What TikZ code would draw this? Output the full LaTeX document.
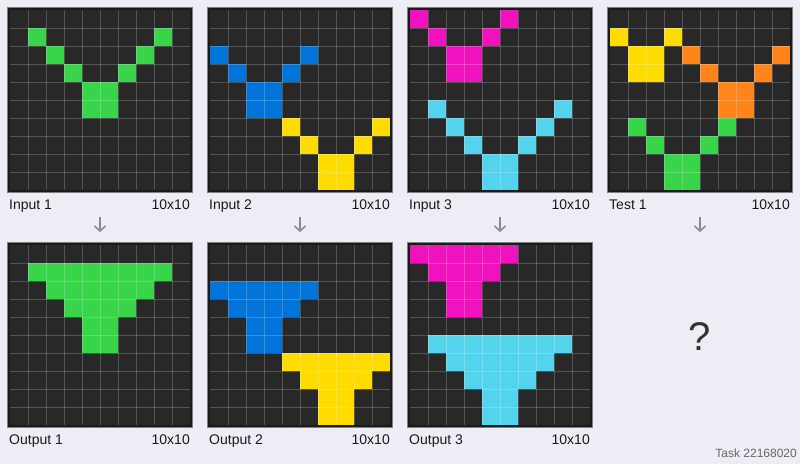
\documentclass[tikz,border=0pt]{standalone}
\usepackage{fontspec}
\setmainfont{Liberation Sans}
\usetikzlibrary{positioning,arrows.meta,calc}
\definecolor{pagebg}{HTML}{EDEDF5}
\definecolor{framec}{HTML}{1A1A1A}
\definecolor{cellbg}{HTML}{282828}
\definecolor{arcgreen}{HTML}{38D44A}
\definecolor{arcblue}{HTML}{0074D9}
\definecolor{arcyellow}{HTML}{FFDC00}
\definecolor{arcmagenta}{HTML}{F012BE}
\definecolor{arcorange}{HTML}{FF851B}
\definecolor{arccyan}{HTML}{54D4EC}
\definecolor{arrowgray}{HTML}{8A8A8A}
\definecolor{tasktext}{HTML}{666666}
\tikzset{
  board/.style={draw=black!50,line width=0.8pt,fill=framec,minimum size=185pt,inner sep=0pt,outer sep=0pt},
  gline/.style={draw=white,draw opacity=0.2,line width=0.7pt},
  lbl/.style={font=\fontsize{14}{16}\selectfont,text=black!90,inner sep=0pt},
  flow/.style={-{Straight Barb[length=5pt,width=11pt]},draw=arrowgray,line width=1.5pt,shorten <=24.5pt,shorten >=10.5pt},
}
% #1,#2 = top left corner of the cell area
\newcommand{\cellarea}[2]{%
  \fill[cellbg] (#1,#2) rectangle ++(180,180);}
\newcommand{\cells}[4]{%
  \foreach \r/\c in {#4} \fill[#3] ({#1+18*\c},{#2+18*\r}) rectangle ++(18,18);}
\newcommand{\gridlines}[2]{%
  \foreach \k in {1,...,9} {
    \draw[gline] ({#1+18*\k},#2) -- ++(0,180);
    \draw[gline] (#1,{#2+18*\k}) -- ++(180,0);
  }}

\begin{document}
\begin{tikzpicture}[x=1pt,y=-1pt]
  \fill[pagebg] (0,0) rectangle (800,464);
  \useasboundingbox (0,0) rectangle (800,464);

  % boards
  \node[board] (in1) at (100,100) {};
  \node[board] (in2) at (300,100) {};
  \node[board] (in3) at (500,100) {};
  \node[board] (test1) at (700,100) {};
  \node[board] (out1) at (100,335) {};
  \node[board] (out2) at (300,335) {};
  \node[board] (out3) at (500,335) {};
  \coordinate (out4) at (700,242.5);

  \foreach \x in {10,210,410,610} \cellarea{\x}{10};
  \foreach \x in {10,210,410} \cellarea{\x}{245};

  % input 1 / output 1
  \cells{10}{10}{arcgreen}{1/1,1/8,2/2,2/7,3/3,3/6,4/4,4/5,5/4,5/5}
  \cells{10}{245}{arcgreen}{1/1,1/2,1/3,1/4,1/5,1/6,1/7,1/8,2/2,2/3,2/4,2/5,2/6,2/7,3/3,3/4,3/5,3/6,4/4,4/5,5/4,5/5}

  % input 2 / output 2
  \cells{210}{10}{arcblue}{2/0,2/5,3/1,3/4,4/2,4/3,5/2,5/3}
  \cells{210}{10}{arcyellow}{6/4,6/9,7/5,7/8,8/6,8/7,9/6,9/7}
  \cells{210}{245}{arcblue}{2/0,2/1,2/2,2/3,2/4,2/5,3/1,3/2,3/3,3/4,4/2,4/3,5/2,5/3}
  \cells{210}{245}{arcyellow}{6/4,6/5,6/6,6/7,6/8,6/9,7/5,7/6,7/7,7/8,8/6,8/7,9/6,9/7}

  % input 3 / output 3
  \cells{410}{10}{arcmagenta}{0/0,0/5,1/1,1/4,2/2,2/3,3/2,3/3}
  \cells{410}{10}{arccyan}{5/1,5/8,6/2,6/7,7/3,7/6,8/4,8/5,9/4,9/5}
  \cells{410}{245}{arcmagenta}{0/0,0/1,0/2,0/3,0/4,0/5,1/1,1/2,1/3,1/4,2/2,2/3,3/2,3/3}
  \cells{410}{245}{arccyan}{5/1,5/2,5/3,5/4,5/5,5/6,5/7,5/8,6/2,6/3,6/4,6/5,6/6,6/7,7/3,7/4,7/5,7/6,8/4,8/5,9/4,9/5}

  % test 1
  \cells{610}{10}{arcyellow}{1/0,1/3,2/1,2/2,3/1,3/2}
  \cells{610}{10}{arcorange}{2/4,2/9,3/5,3/8,4/6,4/7,5/6,5/7}
  \cells{610}{10}{arcgreen}{6/1,6/6,7/2,7/5,8/3,8/4,9/3,9/4}

  \foreach \x in {10,210,410,610} \gridlines{\x}{10};
  \foreach \x in {10,210,410} \gridlines{\x}{245};

  % labels
  \node[lbl,anchor=base west] (in1name) at (9,209) {Input 1};
  \node[lbl,anchor=base east] (in1size) at (190,209) {10x10};
  \node[lbl,anchor=base west] (in2name) at (209,209) {Input 2};
  \node[lbl,anchor=base east] (in2size) at (390,209) {10x10};
  \node[lbl,anchor=base west] (in3name) at (409,209) {Input 3};
  \node[lbl,anchor=base east] (in3size) at (590,209) {10x10};
  \node[lbl,anchor=base west] (test1name) at (609,209) {Test 1};
  \node[lbl,anchor=base east] (test1size) at (790,209) {10x10};
  \node[lbl,anchor=base west] (out1name) at (9,444) {Output 1};
  \node[lbl,anchor=base east] (out1size) at (190,444) {10x10};
  \node[lbl,anchor=base west] (out2name) at (209,444) {Output 2};
  \node[lbl,anchor=base east] (out2size) at (390,444) {10x10};
  \node[lbl,anchor=base west] (out3name) at (409,444) {Output 3};
  \node[lbl,anchor=base east] (out3size) at (590,444) {10x10};

  \node[font=\fontsize{40}{44}\selectfont,text=black!80,inner sep=0pt] (ask) at (700,337) {?};
  \node[font=\fontsize{12}{14}\selectfont,text=tasktext,inner sep=0pt,anchor=base east] (task) at (797,457) {Task 22168020};

  % arrows
  \draw[flow] (in1.south) -- (out1.north);
  \draw[flow] (in2.south) -- (out2.north);
  \draw[flow] (in3.south) -- (out3.north);
  \draw[flow] (test1.south) -- (out4);
\end{tikzpicture}
\end{document}
